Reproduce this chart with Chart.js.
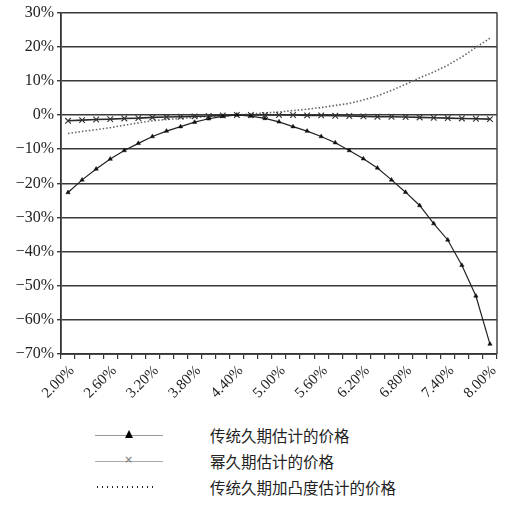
<!DOCTYPE html>
<html>
<head>
<meta charset="utf-8">
<script src="https://cdn.jsdelivr.net/npm/chart.js@4/dist/chart.umd.min.js"></script>
<style>
  html, body { margin: 0; padding: 0; background: #fff; }
  #wrap { position: relative; width: 508px; height: 508px; }
  #c { position: absolute; left: 0; top: 0; }
  .lg { position: absolute; font-family: "Noto Sans CJK SC", sans-serif; font-size: 15.5px; color: #222; line-height: 20px; }
  .ln { position: absolute; height: 0; }
</style>
</head>
<body>
<div id="wrap">
  <canvas id="c" width="508" height="410"></canvas>
  <div id="legend"></div>
</div>
<script>
// ---- data ----
const categories = ['2.00%','2.20%','2.40%','2.60%','2.80%','3.00%','3.20%','3.40%','3.60%','3.80%',
  '4.00%','4.20%','4.40%','4.60%','4.80%','5.00%','5.20%','5.40%','5.60%','5.80%',
  '6.00%','6.20%','6.40%','6.60%','6.80%','7.00%','7.20%','7.40%','7.60%','7.80%','8.00%'];
const shownLabels = ['2.00%','2.60%','3.20%','3.80%','4.40%','5.00%','5.60%','6.20%','6.80%','7.40%','8.00%'];
const durationPrice = [-22.7,-19.0,-15.8,-12.9,-10.4,-8.3,-6.3,-4.7,-3.4,-2.1,
  -1.1,-0.4,0.0,-0.3,-1.0,-2.0,-3.4,-4.7,-6.3,-8.1,
  -10.4,-12.8,-15.5,-19.0,-22.6,-26.5,-31.8,-36.6,-44.0,-53.0,-67.1];
const powerPrice = [-1.7,-1.5,-1.3,-1.2,-1.0,-0.9,-0.7,-0.6,-0.5,-0.4,
  -0.3,-0.1,0.0,0.0,0.0,0.0,0.0,-0.1,-0.1,-0.2,
  -0.3,-0.4,-0.5,-0.5,-0.6,-0.7,-0.8,-0.9,-1.0,-1.1,-1.2];
const convexityPrice = [-5.4,-4.8,-4.3,-3.7,-3.0,-2.3,-1.7,-1.3,-1.0,-0.7,
  -0.4,-0.2,0.0,0.3,0.6,0.9,1.3,1.7,2.2,2.8,
  3.4,4.4,5.6,7.2,9.0,10.9,12.6,14.6,17.0,19.8,22.5];
const seriesNames = ['传统久期估计的价格','幂久期估计的价格','传统久期加凸度估计的价格'];
const yTicks = [30,20,10,0,-10,-20,-30,-40,-50,-60,-70];

const serif = "'Liberation Serif', 'DejaVu Serif', serif";

const frame = {
  id: 'frame',
  afterDraw(chart) {
    const a = chart.chartArea, ctx = chart.ctx;
    ctx.save();
    ctx.strokeStyle = '#444';
    ctx.lineWidth = 1.5;
    ctx.beginPath();
    ctx.moveTo(a.right, a.top);
    ctx.lineTo(a.right, a.bottom);
    ctx.stroke();
    ctx.restore();
  }
};

new Chart(document.getElementById('c'), {
  type: 'line',
  data: {
    labels: categories,
    datasets: [
      { label: seriesNames[0], data: durationPrice, borderColor: '#222', borderWidth: 1.2,
        pointStyle: 'triangle', pointRadius: 2.5, pointBackgroundColor: '#111', pointBorderColor: '#111',
        pointBorderWidth: 0.5, tension: 0 },
      { label: seriesNames[1], data: powerPrice, borderColor: '#2a2a2a', borderWidth: 1.6,
        pointStyle: 'crossRot', pointRadius: 4, pointBorderColor: '#333', pointBorderWidth: 1.1,
        tension: 0 },
      { label: seriesNames[2], data: convexityPrice, borderColor: '#666', borderWidth: 1.6,
        borderDash: [1.5, 2], pointRadius: 0, tension: 0 }
    ]
  },
  options: {
    responsive: false,
    animation: false,
    events: [],
    layout: { padding: { left: 0, right: 11, top: 11, bottom: 0 } },
    plugins: { legend: { display: false }, tooltip: { enabled: false } },
    scales: {
      x: {
        type: 'category',
        offset: true,
        grid: { offset: true, drawOnChartArea: false, drawTicks: true, tickLength: 5, color: '#333', lineWidth: 1.2 },
        border: { display: true, color: '#333', width: 1.8 },
        ticks: {
          autoSkip: false, maxRotation: 45, minRotation: 45,
          color: '#222', font: { family: serif, size: 15 }, padding: 3, labelOffset: 4,
          callback: function(v, i) { const l = categories[i]; return shownLabels.includes(l) ? l : ''; }
        },
        afterFit: function(s) { s.height = 56; }
      },
      y: {
        min: -70, max: 30,
        afterBuildTicks: function(s) { s.ticks = yTicks.map(v => ({ value: v })); },
        grid: { color: '#3a3a3a', lineWidth: 1.4, drawTicks: true, tickLength: 4 },
        border: { display: true, color: '#333', width: 1.8 },
        ticks: {
          color: '#222', font: { family: serif, size: 16 }, padding: 3,
          callback: function(v) { return (v < 0 ? '\u2212' + Math.abs(v) : v) + '%'; }
        },
        afterFit: function(s) { s.width = 61; }
      }
    }
  },
  plugins: [frame]
});

// ---- HTML legend ----
const lg = document.getElementById('legend');
const rows = [435, 461, 487];
rows.forEach(function(y, i) {
  const t = document.createElement('div');
  t.className = 'lg';
  t.style.left = '210px';
  t.style.top = (y - 10) + 'px';
  t.textContent = seriesNames[i];
  lg.appendChild(t);
});
function addLine(y, x1, x2, style) {
  const d = document.createElement('div');
  d.className = 'ln';
  d.style.left = x1 + 'px'; d.style.top = y + 'px'; d.style.width = (x2 - x1) + 'px';
  d.style.borderTop = style;
  lg.appendChild(d);
}
addLine(435, 95, 163, '1px solid #999');
addLine(461, 95, 163, '1px solid #aaa');
const dots = document.createElement('div');
dots.style.cssText = 'position:absolute;left:97px;top:486px;width:60px;height:2px;background-image:repeating-linear-gradient(to right,#222 0,#222 1.5px,transparent 1.5px,transparent 5px);';
lg.appendChild(dots);
const tri = document.createElement('div');
tri.style.cssText = 'position:absolute;left:125px;top:430px;width:0;height:0;border-left:4px solid transparent;border-right:4px solid transparent;border-bottom:8px solid #000;';
lg.appendChild(tri);
const x = document.createElement('div');
x.style.cssText = 'position:absolute;left:124px;top:452px;font:11px "DejaVu Sans",sans-serif;color:#777;line-height:16px;';
x.textContent = '\u00d7';
lg.appendChild(x);
</script>
</body>
</html>
